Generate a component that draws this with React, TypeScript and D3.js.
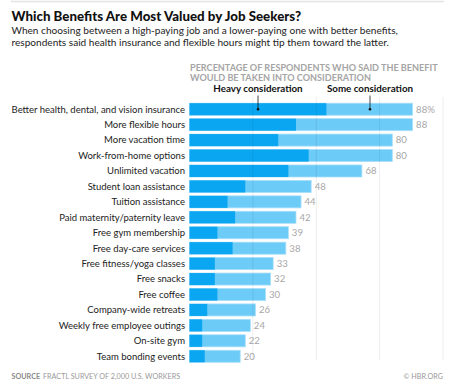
import React from "react";
import * as d3 from "d3";

const categories = [
  "Better health, dental, and vision insurance",
  "More flexible hours",
  "More vacation time",
  "Work-from-home options",
  "Unlimited vacation",
  "Student loan assistance",
  "Tuition assistance",
  "Paid maternity/paternity leave",
  "Free gym membership",
  "Free day-care services",
  "Free fitness/yoga classes",
  "Free snacks",
  "Free coffee",
  "Company-wide retreats",
  "Weekly free employee outings",
  "On-site gym",
  "Team bonding events",
];
const heavyValues = [54, 42, 35, 47, 39, 22, 15, 18, 11, 17, 10, 10, 11, 7, 5, 5, 6];
const totalValues = [88, 88, 80, 80, 68, 48, 44, 42, 39, 38, 33, 32, 30, 26, 24, 22, 20];
const gridTicks = [25, 50, 75, 100];

const W = 450;
const H = 388;
const FONT = "Lato, 'Open Sans', sans-serif";

export default function App() {
  const x = d3.scaleLinear().domain([0, 100]).range([189.5, 443]);
  const y = d3
    .scaleBand<string>()
    .domain(categories)
    .range([101.5, 101.5 + 15.44 * categories.length])
    .paddingInner(0.22)
    .paddingOuter(0.11);
  const bh = y.bandwidth();
  const heavyColor = "#0ba6f1";
  const someColor = "#6ccbf7";
  const gridTop = 97;
  const gridBottom = 360;
  const firstY = y(categories[0])! + bh / 2;

  return (
    <svg width={W} height={H} style={{ position: "absolute", left: 0, top: 0 }} fontFamily={FONT}>
      <rect width={W} height={H} fill="#fff" />
      <line x1={11} x2={444} y1={1.5} y2={1.5} stroke="#e4e4e4" strokeWidth={1.5} />
      <text x={11.5} y={21} fontSize={13.3} fontWeight={900} fill="#111">
        Which Benefits Are Most Valued by Job Seekers?
      </text>
      <text x={11.5} y={33.5} fontSize={10.1} fill="#222">
        When choosing between a high-paying job and a lower-paying one with better benefits,
      </text>
      <text x={11.5} y={45.5} fontSize={10.1} fill="#222">
        respondents said health insurance and flexible hours might tip them toward the latter.
      </text>

      <text x={190} y={71} fontSize={9.1} fontWeight={700} fill="#a5a5a5">
        PERCENTAGE OF RESPONDENTS WHO SAID THE BENEFIT
      </text>
      <text x={190} y={80.5} fontSize={9.1} fontWeight={700} fill="#a5a5a5">
        WOULD BE TAKEN INTO CONSIDERATION
      </text>

      {categories.map((c, i) => {
        const yy = y(c)!;
        return (
          <g key={c}>
            <text
              x={185}
              y={yy + bh / 2}
              dy="0.35em"
              textAnchor="end"
              fontSize={9.5}
              fill="#222"
            >
              {c}
            </text>
            <rect
              x={x(0)}
              y={yy}
              width={x(totalValues[i]) - x(0)}
              height={bh}
              fill={someColor}
              stroke="#a9dff9"
              strokeWidth={0.8}
            />
            <rect x={x(0)} y={yy} width={x(heavyValues[i]) - x(0)} height={bh} fill={heavyColor} />
            <text
              x={x(totalValues[i]) + 3.5}
              y={yy + bh / 2}
              dy="0.35em"
              fontSize={9.6}
              fill="#a8a8a8"
            >
              {i === 0 ? `${totalValues[i]}%` : totalValues[i]}
            </text>
          </g>
        );
      })}

      {gridTicks.map((t) => (
        <line
          key={t}
          x1={x(t)}
          x2={x(t)}
          y1={gridTop}
          y2={gridBottom}
          stroke="#000"
          strokeOpacity={0.07}
          strokeWidth={1}
        />
      ))}

      <text x={258} y={92} textAnchor="middle" fontSize={9.8} fontWeight={700} fill="#111">
        Heavy consideration
      </text>
      <line x1={258} x2={258} y1={95.5} y2={firstY} stroke="#111" strokeWidth={0.8} />
      <circle cx={258} cy={firstY} r={1.3} fill="#111" />
      <text x={370} y={92} textAnchor="middle" fontSize={9.8} fontWeight={700} fill="#111">
        Some consideration
      </text>
      <line x1={370} x2={370} y1={95.5} y2={firstY} stroke="#111" strokeWidth={0.8} />
      <circle cx={370} cy={firstY} r={1.3} fill="#111" />

      <text x={11.5} y={378.5} fontSize={7.2} fill="#999">
        <tspan fontWeight={700} fill="#8a8a8a">SOURCE</tspan>
        <tspan dx={3}>FRACTL SURVEY OF 2,000 U.S. WORKERS</tspan>
      </text>
      <text x={443} y={378.5} textAnchor="end" fontSize={7.2} fill="#999">
        © HBR.ORG
      </text>
    </svg>
  );
}
